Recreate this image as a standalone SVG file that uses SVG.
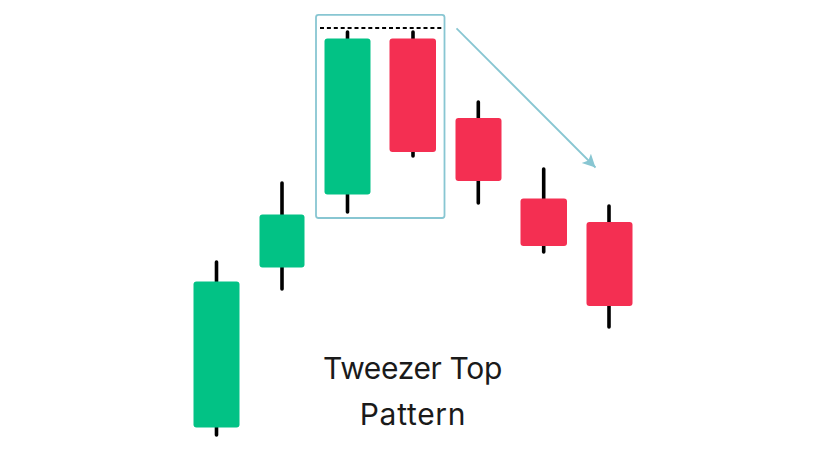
<svg xmlns="http://www.w3.org/2000/svg" width="825" height="450" viewBox="0 0 825 450">
<defs><marker id="a" markerUnits="userSpaceOnUse" markerWidth="14" markerHeight="14" refX="13" refY="6.500" orient="auto"><path d="M0 0L13 6.500L0 13L3 6.500Z" fill="#88c6d2"/></marker></defs>
<style>.w{stroke:#000;stroke-width:3.600;stroke-linecap:round}.g{fill:#02c285}.r{fill:#f42f52}text{font-family:"Inter","Noto Sans",sans-serif;font-size:30px;fill:#1a1a1a;text-anchor:middle}</style>
<rect width="825" height="450" fill="#fff"/>
<g id="c1"><line class="w" x1="216.500" y1="262" x2="216.500" y2="435"/><rect class="g" x="193.500" y="281.500" width="46" height="146" rx="3"/></g>
<g id="c2"><line class="w" x1="282" y1="183" x2="282" y2="289"/><rect class="g" x="259.500" y="214.500" width="45" height="53" rx="3"/></g>
<g id="c3"><line class="w" x1="347.500" y1="32" x2="347.500" y2="212"/><rect class="g" x="324.500" y="38.500" width="46" height="156" rx="3"/></g>
<g id="c4"><line class="w" x1="413" y1="32" x2="413" y2="156"/><rect class="r" x="389.500" y="38.500" width="46.500" height="113.500" rx="3"/></g>
<g id="c5"><line class="w" x1="478.300" y1="102" x2="478.300" y2="203"/><rect class="r" x="455.500" y="118" width="46" height="63" rx="3"/></g>
<g id="c6"><line class="w" x1="543.700" y1="169" x2="543.700" y2="252"/><rect class="r" x="520.500" y="198.500" width="46.500" height="47.500" rx="3"/></g>
<g id="c7"><line class="w" x1="609" y1="206" x2="609" y2="327"/><rect class="r" x="586.500" y="222" width="46" height="84" rx="3"/></g>
<g id="connectors"><rect x="316" y="14.800" width="128.500" height="203.200" rx="2.500" fill="none" stroke="#88c6d2" stroke-width="1.800"/>
<line x1="320" y1="28" x2="444" y2="28" stroke="#000" stroke-width="2" stroke-dasharray="4 2.900"/>
<line x1="456.500" y1="28.300" x2="595.500" y2="167.500" stroke="#88c6d2" stroke-width="1.800" marker-end="url(#a)"/></g>
<g id="label"><text x="412.500" y="379" letter-spacing="-0.35">Tweezer Top</text><text x="413" y="425" letter-spacing="0.7">Pattern</text></g>
</svg>
